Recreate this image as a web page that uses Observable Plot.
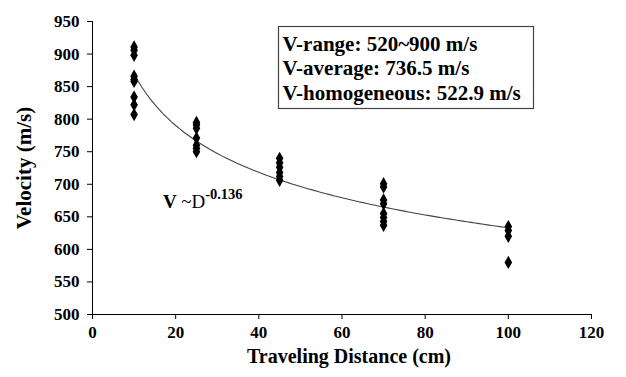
<!DOCTYPE html>
<html>
<head>
<meta charset="utf-8">
<script src="https://cdn.jsdelivr.net/npm/d3@7"></script>
<script src="https://cdn.jsdelivr.net/npm/@observablehq/plot@0.6"></script>
<style>
  html, body { margin: 0; padding: 0; background: #fff; }
</style>
</head>
<body>
<div id="chart"></div>
<script>
// Data
const distances = [10, 25, 45, 70, 100];
const velocities = [
  [911, 906, 898, 866, 861, 858, 834, 822, 807],   // D = 10 cm
  [795, 791, 786, 771, 760, 755, 750],             // D = 25 cm
  [740, 733, 726, 718, 712, 706],                  // D = 45 cm
  [701, 696, 676, 670, 655, 649, 643, 637],        // D = 70 cm
  [635, 629, 620, 580]                              // D = 100 cm
];
const xTicks = [0, 20, 40, 60, 80, 100, 120];
const yTicks = [500, 550, 600, 650, 700, 750, 800, 850, 900, 950];
const boxLines = ["V-range: 520~900 m/s", "V-average: 736.5 m/s", "V-homogeneous: 522.9 m/s"];
const xLabel = "Traveling Distance (cm)";
const yLabel = "Velocity (m/s)";
const exponentLabel = "-0.136";

const points = distances.flatMap((d, i) => velocities[i].map(v => ({D: d, V: v})));

// Power-law trendline (least squares in log-log space, as a spreadsheet power trendline)
const lx = points.map(p => Math.log(p.D)), ly = points.map(p => Math.log(p.V));
const mx = d3.mean(lx), my = d3.mean(ly);
const b = d3.sum(lx, (x, i) => (x - mx) * (ly[i] - my)) / d3.sum(lx, x => (x - mx) ** 2);
const a = Math.exp(my - b * mx);
const trend = d3.range(10, 100.5, 1).map(D => ({D, V: a * Math.pow(D, b)}));

const FONT = "Liberation Serif";

const chart = Plot.plot({
  width: 626,
  height: 377,
  marginLeft: 92,
  marginRight: 35,
  marginTop: 21,
  marginBottom: 63,
  style: {background: "#fff", color: "#000", fontFamily: FONT},
  x: {domain: [0, 120]},
  y: {domain: [500, 950]},
  marks: [
    Plot.axisX({ticks: xTicks, tickSize: 5, tickPadding: 6, fontSize: 17, fontWeight: "bold", fontFamily: FONT, label: null}),
    Plot.axisY({ticks: yTicks, tickSize: 5, tickPadding: 8, fontSize: 17, fontWeight: "bold", fontFamily: FONT, label: null}),
    Plot.ruleX([0], {stroke: "#000", strokeWidth: 1}),
    Plot.ruleY([500], {stroke: "#000", strokeWidth: 1}),
    Plot.line(trend, {x: "D", y: "V", stroke: "#444", strokeWidth: 1.1}),
    Plot.dot(points, {x: "D", y: "V", symbol: "diamond", r: 4, fill: "#000", stroke: "none"}),
    Plot.text([xLabel], {frameAnchor: "bottom", textAnchor: "middle", lineAnchor: "middle", dx: 7, dy: 42, fontSize: 20, fontWeight: "bold", fontFamily: FONT, fill: "#000"}),
    Plot.text([yLabel], {frameAnchor: "left", textAnchor: "middle", lineAnchor: "middle", rotate: -90, dx: -68, fontSize: 21, fontWeight: "bold", fontFamily: FONT, fill: "#000"}),
    ...boxLines.map((line, i) => Plot.text([line], {frameAnchor: "top-left", textAnchor: "start", lineAnchor: "middle", dx: 190, dy: 22.5 + i * 24.5, fontSize: 21, fontWeight: "bold", fontFamily: FONT, fill: "#000"}))
  ]
});

// Annotation box around the statistics text and the power-law label
const svg = d3.select(chart);
svg.insert("rect", ":first-child")
  .attr("x", 278.5).attr("y", 26.5).attr("width", 255).attr("height", 82)
  .attr("fill", "#fff").attr("stroke", "#444").attr("stroke-width", 1.2);
svg.insert("rect", ":first-child").attr("width", 626).attr("height", 377).attr("fill", "#fff");

const ann = svg.append("text")
  .attr("x", 163).attr("y", 208).attr("text-anchor", "start")
  .attr("font-size", 19).attr("fill", "#000");
ann.append("tspan").attr("font-weight", "bold").text("V ");
ann.append("tspan").attr("font-weight", "normal").text("~D");
ann.append("tspan").attr("font-weight", "bold").attr("font-size", 14.5).attr("dy", -9).text(exponentLabel);

// Force the serif face on every text element
svg.attr("font-family", FONT).style("font-family", FONT);
svg.selectAll("text, tspan").attr("font-family", FONT).style("font-family", FONT);
svg.selectAll('g[aria-label$="tick label"]').attr("font-weight", "bold");

document.getElementById("chart").appendChild(chart);
</script>
</body>
</html>
